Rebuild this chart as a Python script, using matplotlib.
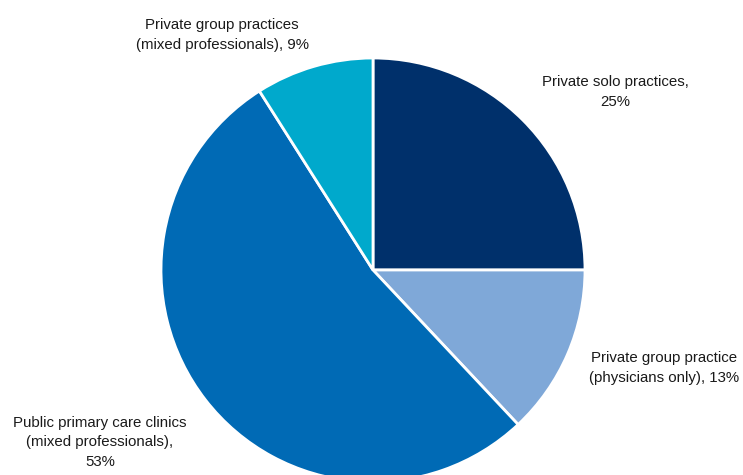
import matplotlib.pyplot as plt

plt.rcParams['font.family'] = ['Liberation Sans', 'DejaVu Sans']

categories = [
    "Private solo practices",
    "Private group practice (physicians only)",
    "Public primary care clinics (mixed professionals)",
    "Private group practices (mixed professionals)",
]
shares = [25, 13, 53, 9]
colors = ["#00306B", "#7FA8D8", "#006AB5", "#00A9CC"]

label_texts = [
    "Private solo practices,\n25%",
    "Private group practice\n(physicians only), 13%",
    "Public primary care clinics\n(mixed professionals),\n53%",
    "Private group practices\n(mixed professionals), 9%",
]
label_pos = [(615, 383), (664, 107), (100, 33), (222, 440)]

W, H = 743, 475
fig = plt.figure(figsize=(W / 100, H / 100), dpi=100)
ax = fig.add_axes([0, 0, 1, 1])

ax.pie(shares, colors=colors, startangle=90, counterclock=False,
       center=(373, H - 270), radius=212, frame=True,
       wedgeprops=dict(edgecolor='white', linewidth=2))
ax.set_xlim(0, W)
ax.set_ylim(0, H)
ax.set_aspect('equal')
ax.axis('off')

for txt, (x, y) in zip(label_texts, label_pos):
    ax.text(x, y, txt, ha='center', va='center', fontsize=10.8,
            color='#1a1a1a', linespacing=1.5)

fig.savefig('out.png', dpi=100)
